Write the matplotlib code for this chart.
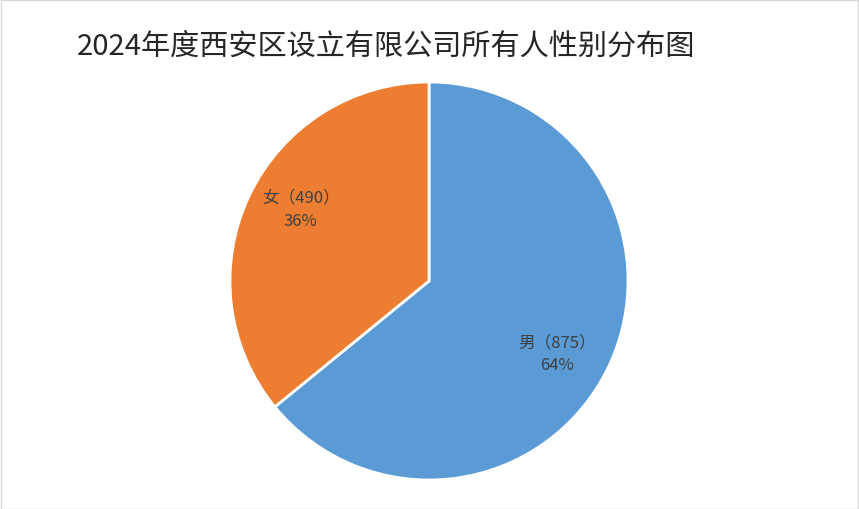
import numpy as np
import matplotlib
matplotlib.use('Agg')
import matplotlib.pyplot as plt
from matplotlib.patches import Rectangle

plt.rcParams['font.family'] = ['Noto Sans CJK SC', 'DejaVu Sans']

# data
categories = ["男", "女"]
counts = [875, 490]
colors = ["#5B9BD5", "#ED7D31"]

W, H = 859, 510
fig = plt.figure(figsize=(W / 100, H / 100), dpi=100)

# pie centre and radius in pixels
cx, cy, r = 429, 282, 201
ax = fig.add_axes([(cx - r) / W, 1 - (cy + r) / H, 2 * r / W, 2 * r / H])

total = sum(counts)
labels = [f"{c}（{n}）\n{round(n / total * 100)}%" for c, n in zip(categories, counts)]

wedges, texts = ax.pie(counts, colors=colors, startangle=90, counterclock=False,
                       radius=1.0, labels=labels, labeldistance=0.74,
                       wedgeprops=dict(edgecolor="white", linewidth=2),
                       textprops=dict(fontsize=12, color="#404040",
                                      ha="center", va="center",
                                      linespacing=1.45))
# nudge labels a little clockwise, like the Excel layout
for w, t in zip(wedges, texts):
    ang = np.deg2rad((w.theta1 + w.theta2) / 2 - 4)
    t.set_position((0.74 * np.cos(ang), 0.74 * np.sin(ang)))
    t.set_ha("center")
ax.set_xlim(-1.01, 1.01)
ax.set_ylim(-1.01, 1.01)
ax.set_aspect("equal")
ax.axis("off")

fig.text(77 / W, 1 - 47 / H, "2024年度西安区设立有限公司所有人性别分布图",
         ha="left", va="center", fontsize=21, color="#262626")

# outer border
fig.patches.append(Rectangle((0.5 / W, 0.5 / H), 1 - 1.5 / W, 1 - 1.5 / H,
                             transform=fig.transFigure, fill=False,
                             edgecolor="#D9D9D9", linewidth=1))

fig.savefig("out.png", dpi=100, facecolor="white")
